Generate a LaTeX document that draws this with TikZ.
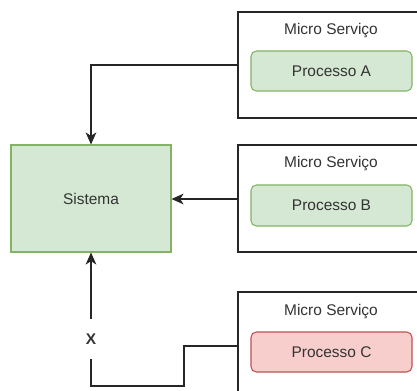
\documentclass[tikz,border=0pt]{standalone}
\usepackage{fontspec}
\setmainfont{Liberation Sans}
\usetikzlibrary{arrows.meta}
\definecolor{okfill}{HTML}{D5E8D4}
\definecolor{okline}{HTML}{82B366}
\definecolor{badfill}{HTML}{F8CECC}
\definecolor{badline}{HTML}{B85450}
\definecolor{txt}{HTML}{333333}
\begin{document}
\begin{tikzpicture}[x=0.75pt,y=-0.75pt,
  service/.style={draw=black!85,line width=0.9pt,fill=white},
  proc/.style={draw=okline,fill=okfill,rounded corners=4pt,line width=0.8pt},
  procbad/.style={draw=badline,fill=badfill,rounded corners=4pt,line width=0.8pt},
  lbl/.style={font=\fontsize{11.6pt}{13pt}\selectfont,text=txt},
  conn/.style={draw=black!85,line width=0.9pt,-{Stealth[length=9pt,width=8pt,inset=2.5pt]}},
  plain/.style={draw=black!85,line width=0.9pt}]
\useasboundingbox (0,0) rectangle (417,391);

% the central system
\node[draw=okline,fill=okfill,line width=0.8pt,minimum width=160*0.75pt,minimum height=107*0.75pt,inner sep=0pt,lbl] (sys) at (91,198.5) {Sistema};

% micro service containers (they run past the right and bottom edges)
\path[service] (238,12) rectangle (430,118);
\path[service] (238,145) rectangle (430,252);
\path[service] (238,292) rectangle (430,400);
\coordinate (svcA) at (238,65);
\coordinate (svcB) at (238,199);
\coordinate (svcC) at (238,346);

\node[lbl] (titA) at (331,31) {Micro Serviço};
\node[lbl] (titB) at (331,164) {Micro Serviço};
\node[lbl] (titC) at (331,312) {Micro Serviço};

\node[proc,minimum width=161*0.75pt,minimum height=40*0.75pt,inner sep=0pt,lbl] (pA) at (331.5,71) {Processo A};
\node[proc,minimum width=161*0.75pt,minimum height=41*0.75pt,inner sep=0pt,lbl] (pB) at (331.5,205.5) {Processo B};
\node[procbad,minimum width=161*0.75pt,minimum height=40*0.75pt,inner sep=0pt,lbl] (pC) at (331.5,352) {Processo C};

% connectors into the system
\draw[conn] (svcA) -| (sys.north);
\draw[conn] (svcB) -- (svcB -| sys.east);

% broken link from service C, interrupted by the X mark
\node[lbl,font=\fontsize{11.6pt}{13pt}\selectfont\bfseries] (xmark) at (91,339) {X};
\coordinate (cbend1) at (184,346);
\coordinate (cbend2) at (184,386);
\coordinate (cbend3) at (91,386);
\coordinate (cgap) at (91,359);
\coordinate (cgapTop) at (91,319);
\draw[plain] (svcC) -- (cbend1) -- (cbend2) -- (cbend3) -- (cgap);
\draw[conn] (cgapTop) -- (sys.south);
\end{tikzpicture}
\end{document}
